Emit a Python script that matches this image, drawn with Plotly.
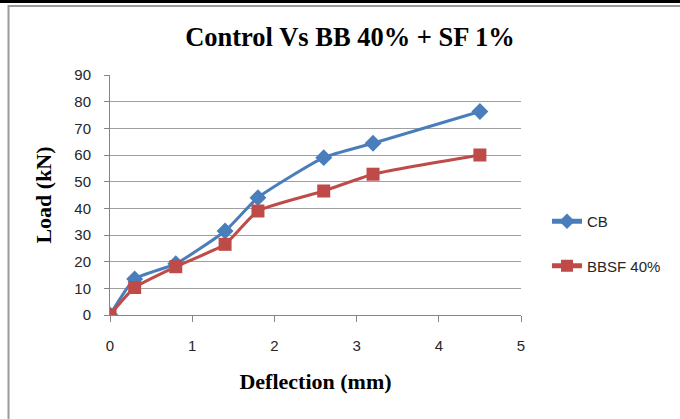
import plotly.graph_objects as go

deflection = [0, 0.3, 0.8, 1.4, 1.8, 2.6, 3.2, 4.5]
cb_load = [0, 13.5, 19.2, 31.5, 44, 59, 64.4, 76.3]
bbsf_load = [0, 10.3, 18.1, 26.5, 39, 46.5, 52.8, 60]

title_text = "Control Vs BB 40% + SF 1%"
x_title = "Deflection (mm)"
y_title = "Load (kN)"

W, H = 680, 419
ML, MR, MT, MB = 110, 159, 75, 104
PW, PH = W - ML - MR, H - MT - MB

def px(x):
    return (x - ML) / PW

def py(y):
    return (H - MB - y) / PH

fig = go.Figure()
fig.add_trace(go.Scatter(
    x=deflection, y=cb_load, name="CB", mode="lines+markers",
    line=dict(color="#4A7EBB", width=3, shape="spline", smoothing=0.5),
    marker=dict(symbol="diamond", size=13, color="#4A7EBB"),
    legendgroup="a",
))
fig.add_trace(go.Scatter(
    x=deflection, y=bbsf_load, name="BBSF 40%", mode="lines+markers",
    line=dict(color="#BE4B48", width=3, shape="spline", smoothing=0.5),
    marker=dict(symbol="square", size=13, color="#BE4B48"),
    legendgroup="b",
))

tickfont = dict(family="Liberation Sans", size=15, color="#262626")

fig.update_layout(
    width=W, height=H,
    margin=dict(l=ML, r=MR, t=MT, b=MB),
    paper_bgcolor="white", plot_bgcolor="white",
    title=dict(text="<b>" + title_text + "</b>", xref="container", x=350 / W, xanchor="center",
               yref="container", y=1 - 37 / H, yanchor="middle",
               font=dict(family="Liberation Serif", size=26.5, color="black")),
    showlegend=True,
    legend=dict(x=px(547), y=py(205), xanchor="left", yanchor="top",
                font=dict(family="Liberation Sans", size=15, color="#262626"),
                tracegroupgap=22, bgcolor="rgba(0,0,0,0)", itemsizing="constant",
                borderwidth=0),
    xaxis=dict(range=[0, 5], dtick=1, tick0=0, showgrid=False, zeroline=False,
               showline=True, linecolor="#868686", linewidth=1,
               ticks="outside", ticklen=6, tickcolor="#868686",
               ticklabelstandoff=11,
               tickfont=tickfont,
               title=dict(text="<b>" + x_title + "</b>", standoff=20,
                          font=dict(family="Liberation Serif", size=22, color="black"))),
    yaxis=dict(range=[0, 90], dtick=10, tick0=0, showgrid=True, gridcolor="#A0A0A0",
               gridwidth=1, zeroline=False,
               showline=True, linecolor="#868686", linewidth=1,
               ticks="outside", ticklen=5, tickcolor="#868686",
               ticklabelstandoff=10,
               tickfont=tickfont,
               title=dict(text="<b>" + y_title + "</b>", standoff=16,
                          font=dict(family="Liberation Serif", size=22, color="black"))),
    shapes=[
        dict(type="line", xref="paper", yref="paper", x0=px(0), x1=px(W), y0=py(1.5), y1=py(1.5),
             line=dict(color="black", width=3)),
        dict(type="line", xref="paper", yref="paper", x0=px(8), x1=px(W), y0=py(6), y1=py(6),
             line=dict(color="#9A9A9A", width=2)),
        dict(type="line", xref="paper", yref="paper", x0=px(8.5), x1=px(8.5), y0=py(5), y1=py(H),
             line=dict(color="#9A9A9A", width=2)),
    ],
)

fig.write_html("out.html")
